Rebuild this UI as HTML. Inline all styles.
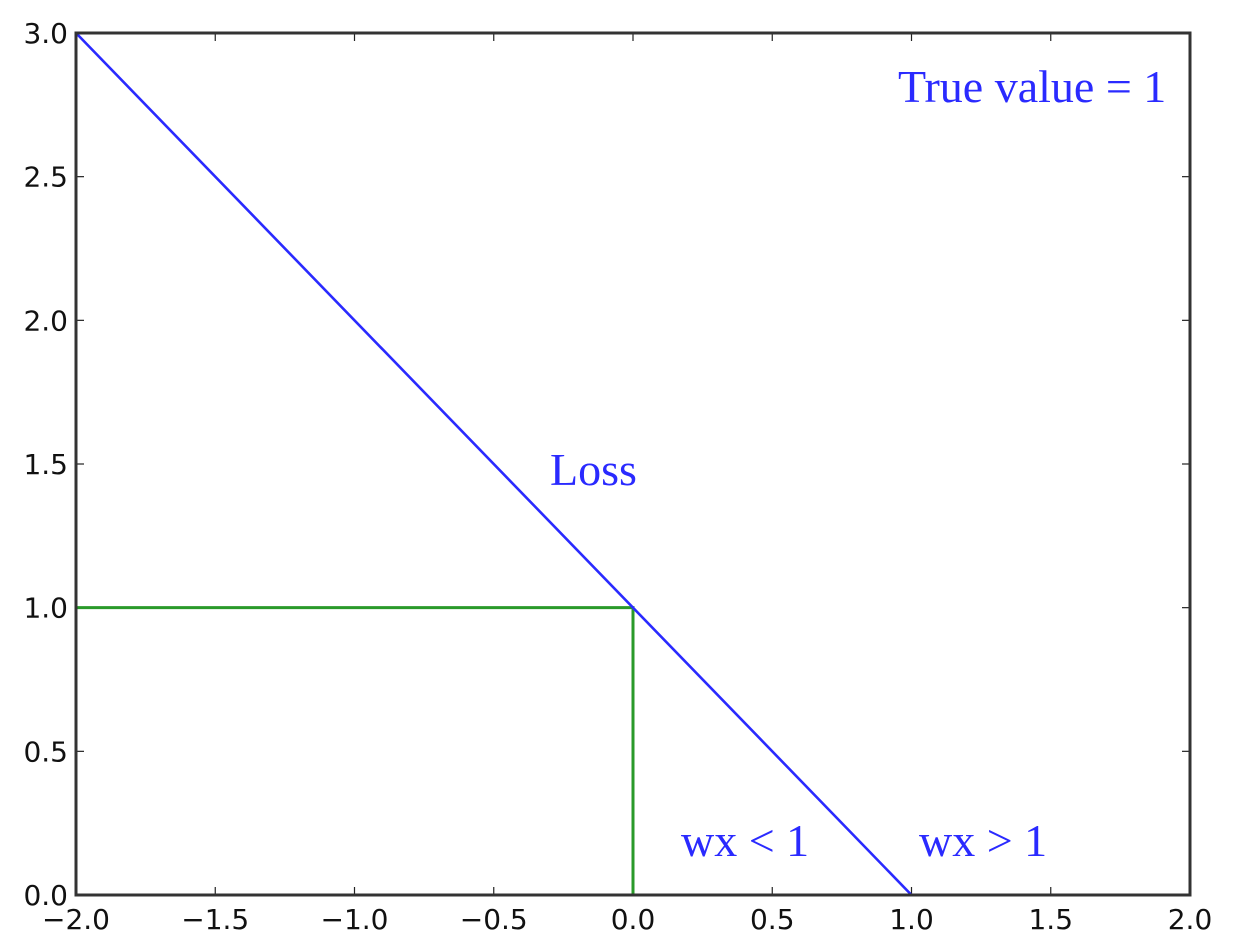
<!DOCTYPE html>
<html><head><meta charset="utf-8"><style>html,body{margin:0;padding:0;background:#fff}svg{display:block}</style></head>
<body>
<svg id="chart" width="1252" height="942" xmlns="http://www.w3.org/2000/svg"></svg>
<script>
const xTicks = [-2.0,-1.5,-1.0,-0.5,0.0,0.5,1.0,1.5,2.0];
const yTicks = [0.0,0.5,1.0,1.5,2.0,2.5,3.0];
const lossX = [-2, 1, 2];
const lossY = [3, 0, 0];
const guideX = [-2, 0, 0];
const guideY = [1, 1, 0];
const L=76,R=1190,T=33,B=895;
const sx=v=>L+(v+2)/4*(R-L);
const sy=v=>B-v/3*(B-T);
const svg=document.getElementById('chart');
const NS='http://www.w3.org/2000/svg';
function mk(tag,attrs,parent){const e=document.createElementNS(NS,tag);for(const k in attrs)e.setAttribute(k,attrs[k]);(parent||svg).appendChild(e);return e;}
xTicks.forEach(v=>{
  const t=mk('line',{x1:sx(v),x2:sx(v),y1:B,y2:B-8,stroke:'#222','stroke-width':1.2});
  
  
  mk('line',{x1:sx(v),x2:sx(v),y1:T,y2:T+8,stroke:'#222','stroke-width':1.2});
  const lb=mk('text',{x:sx(v),y:929,'text-anchor':'middle','font-family':'DejaVu Sans, sans-serif','font-size':28,fill:'#111'});
  lb.textContent=(v<0?'\u2212':'')+Math.abs(v).toFixed(1);
  
  
});
yTicks.forEach(v=>{
  const t=mk('line',{x1:L,x2:L+8,y1:sy(v),y2:sy(v),stroke:'#222','stroke-width':1.2});
  
  
  mk('line',{x1:R,x2:R-8,y1:sy(v),y2:sy(v),stroke:'#222','stroke-width':1.2});
  const lb=mk('text',{x:68,y:sy(v)+10,'text-anchor':'end','font-family':'DejaVu Sans, sans-serif','font-size':28,fill:'#111'});
  lb.textContent=v.toFixed(1);
  
  
});
const g=mk('polyline',{points:guideX.map((x,i)=>sx(x)+','+sy(guideY[i])).join(' '),fill:'none',stroke:'#2a9a2a','stroke-width':3});


const l=mk('polyline',{points:lossX.map((x,i)=>sx(x)+','+sy(lossY[i])).join(' '),fill:'none',stroke:'#2a2aff','stroke-width':2.6});


const fr=mk('rect',{x:L,y:T,width:R-L,height:B-T,fill:'none',stroke:'#333','stroke-width':3});


const notes=[['True value = 1',898,102,'true-value-label'],['Loss',550,485,'loss-label'],['wx < 1',681,856,'wx-lt-1-label'],['wx > 1',919,856,'wx-gt-1-label']];
notes.forEach(n=>{
  const t=mk('text',{x:n[1],y:n[2],'font-family':'Liberation Serif, serif','font-size':46,fill:'#2a2aff'});
  t.textContent=n[0];
  
  
});
</script>
</body></html>
